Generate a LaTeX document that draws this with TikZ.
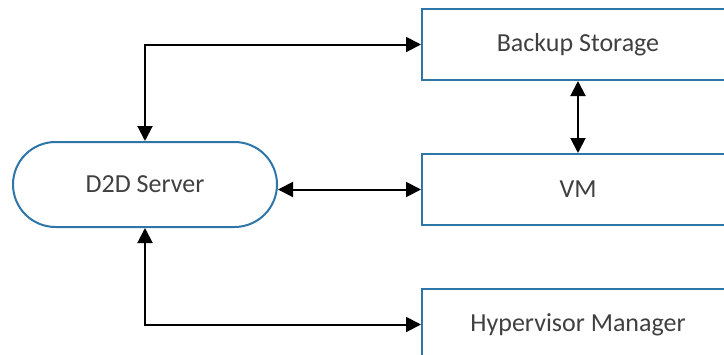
\documentclass[tikz,border=0pt]{standalone}
\usepackage{fontspec}
\setmainfont{Carlito}
\usetikzlibrary{positioning, arrows.meta}

\definecolor{edgeblue}{RGB}{46,117,168}
\definecolor{textgray}{RGB}{64,64,64}

\begin{document}
\begin{tikzpicture}[
    x=1pt, y=1pt,
    box/.style={
        rectangle,
        draw=edgeblue,
        line width=2pt,
        fill=white,
        text=textgray,
        font=\fontsize{26}{30}\selectfont,
        minimum width=312pt,
        minimum height=71pt
    },
    server/.style={
        box,
        rounded corners=42.5pt,
        minimum width=264pt,
        minimum height=85pt
    },
    link/.style={
        {Triangle[length=15pt,width=15pt]}-{Triangle[length=15pt,width=15pt]},
        line width=2pt
    }
]
\useasboundingbox (0,0) rectangle (724,-354);
\clip (0,0) rectangle (724,-354);

\node[server] (d2d) at (145,-184.5) {D2D Server};

\node[box, right=143pt of d2d, yshift=-5pt] (vm) {VM};

\node[box, above=72pt of vm] (backup) {Backup Storage};

\node[box, below=62pt of vm] (hyper) {Hypervisor Manager};

\draw[link] (backup.west) -| (d2d.north);
\draw[link] (vm.west) -- (vm.west -| d2d.east);
\draw[link] (backup.south) -- (vm.north);
\draw[link] (hyper.west) -| (d2d.south);

\end{tikzpicture}
\end{document}
